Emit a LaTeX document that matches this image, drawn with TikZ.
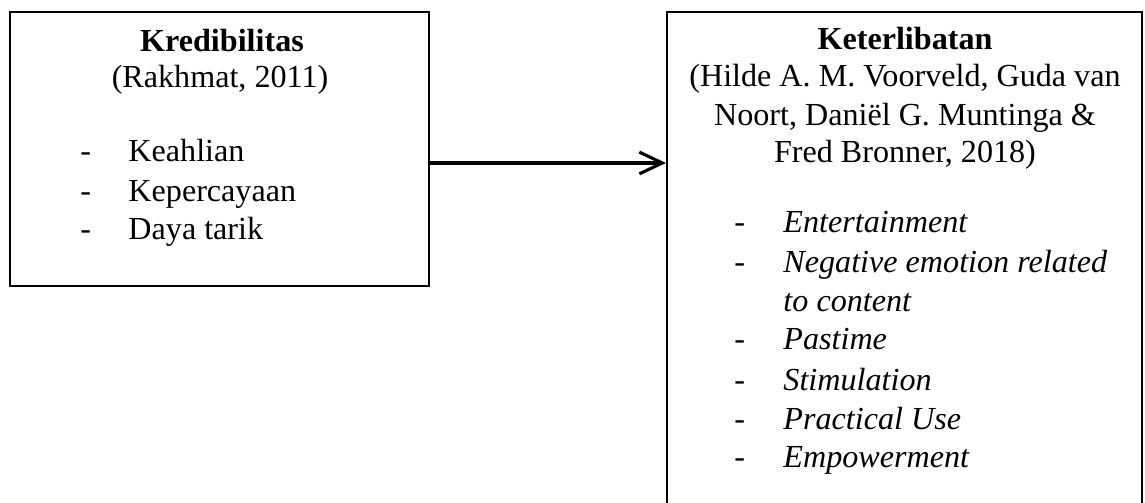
\documentclass[tikz,border=0pt]{standalone}
\usepackage{fontspec}
\setmainfont{Liberation Serif}
\usetikzlibrary{fit,arrows.meta}
\begin{document}
\begin{tikzpicture}[x=0.414pt,y=-0.414pt,
  boxframe/.style={draw=black,line width=0.85pt,inner sep=0pt},
  txt/.style={inner sep=0pt,font=\fontsize{13.3pt}{15pt}\selectfont},
  ctxt/.style={txt,anchor=base},
  ltxt/.style={txt,anchor=base west},
  itxt/.style={txt,anchor=base west,font=\fontsize{13.3pt}{15pt}\selectfont\itshape},
  link/.style={line width=1.3pt,-{Straight Barb[length=9.5pt,width=9pt]}}]
\useasboundingbox (0,0) rectangle (1145,503);
\clip (0,0) rectangle (1145,503);
% boxes
\node[boxframe,fit={(10,12) (429,286)}] (left) {};
\node[boxframe,fit={(667,12) (1142,530)}] (right) {};
% left box text
\node[ctxt] (lt1) at (222,52) {\textbf{Kredibilitas}};
\node[ctxt] (lt2) at (220,88) {(Rakhmat, 2011)};
\node[ltxt] (ld1) at (80,162) {-};
\node[ltxt] (li1) at (128,162) {Keahlian};
\node[ltxt] (ld2) at (80,202) {-};
\node[ltxt] (li2) at (128,202) {Kepercayaan};
\node[ltxt] (ld3) at (80,240) {-};
\node[ltxt] (li3) at (128,240) {Daya tarik};
% right box text
\node[ctxt] (rt1) at (905,50) {\textbf{Keterlibatan}};
\node[ctxt] (rt2) at (905,87) {(Hilde A. M. Voorveld, Guda van};
\node[ctxt] (rt3) at (905,126) {Noort, Daniël G. Muntinga \&};
\node[ctxt] (rt4) at (905,163) {Fred Bronner, 2018)};
\node[ltxt] (rd1) at (734,233) {-};
\node[itxt] (ri1) at (783,233) {Entertainment};
\node[ltxt] (rd2) at (734,273) {-};
\node[itxt] (ri2) at (783,273) {Negative emotion related};
\node[itxt] (ri2b) at (783,312) {to content};
\node[ltxt] (rd3) at (734,350) {-};
\node[itxt] (ri3) at (783,350) {Pastime};
\node[ltxt] (rd4) at (734,391) {-};
\node[itxt] (ri4) at (783,391) {Stimulation};
\node[ltxt] (rd5) at (734,430) {-};
\node[itxt] (ri5) at (783,430) {Practical Use};
\node[ltxt] (rd6) at (734,468) {-};
\node[itxt] (ri6) at (783,468) {Empowerment};
% connector
\draw[link] (left.east |- 0,163) -- (right.west |- 0,163);
\end{tikzpicture}
\end{document}
